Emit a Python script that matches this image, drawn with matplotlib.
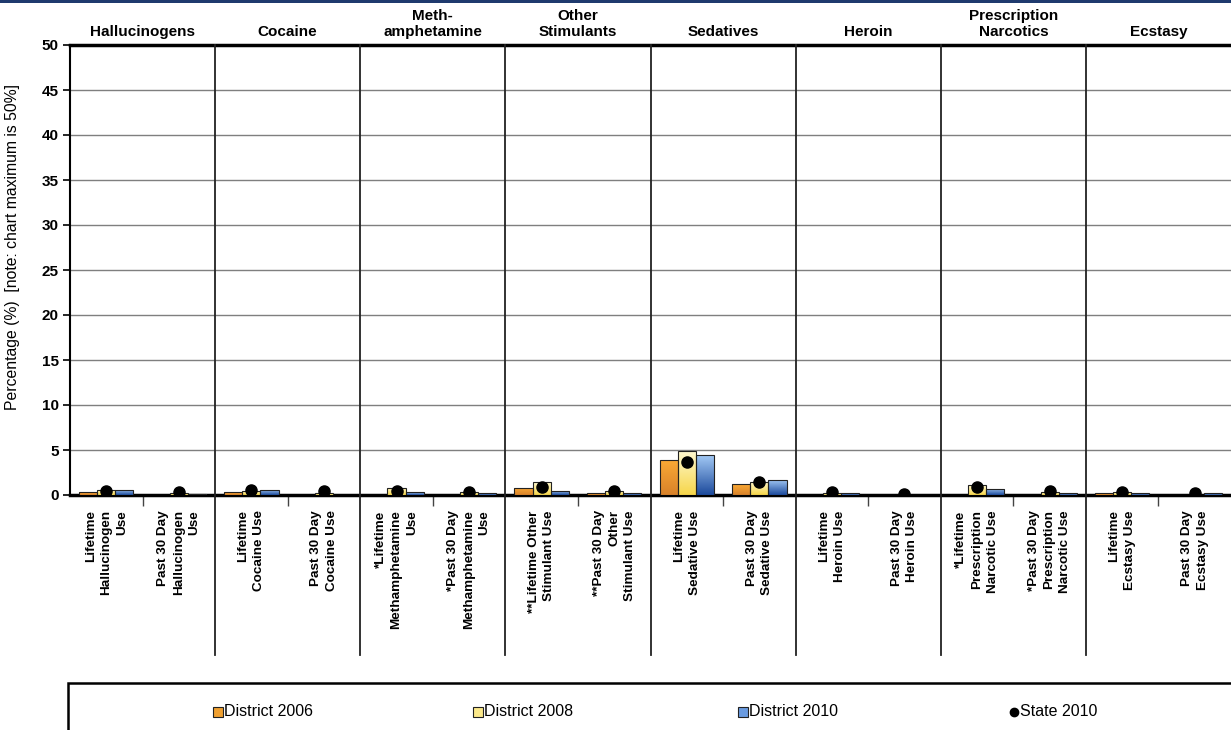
import numpy as np
import matplotlib
matplotlib.use("Agg")
import matplotlib.pyplot as plt
from matplotlib.colors import LinearSegmentedColormap
from matplotlib.patches import Rectangle
from matplotlib.lines import Line2D

plt.rcParams['font.family'] = ['Liberation Sans', 'DejaVu Sans']

groups = ['Hallucinogens', 'Cocaine', 'Meth-\namphetamine', 'Other\nStimulants',
          'Sedatives', 'Heroin', 'Prescription\nNarcotics', 'Ecstasy']
categories = ['Lifetime\nHallucinogen\nUse', 'Past 30 Day\nHallucinogen\nUse',
              'Lifetime\nCocaine Use', 'Past 30 Day\nCocaine Use',
              '*Lifetime\nMethamphetamine\nUse', '*Past 30 Day\nMethamphetamine\nUse',
              '**Lifetime Other\nStimulant Use', '**Past 30 Day\nOther\nStimulant Use',
              'Lifetime\nSedative Use', 'Past 30 Day\nSedative Use',
              'Lifetime\nHeroin Use', 'Past 30 Day\nHeroin Use',
              '*Lifetime\nPrescription\nNarcotic Use', '*Past 30 Day\nPrescription\nNarcotic Use',
              'Lifetime\nEcstasy Use', 'Past 30 Day\nEcstasy Use']
d2006 = [0.3, 0.0, 0.3, 0.0, 0.0, 0.0, 0.8, 0.2, 3.9, 1.2, 0.0, 0.0, 0.0, 0.0, 0.2, 0.0]
d2008 = [0.6, 0.2, 0.5, 0.2, 0.8, 0.3, 1.4, 0.5, 4.9, 1.5, 0.2, 0.0, 1.1, 0.3, 0.3, 0.0]
d2010 = [0.6, 0.15, 0.6, 0.0, 0.3, 0.2, 0.5, 0.2, 4.5, 1.7, 0.2, 0.0, 0.7, 0.2, 0.2, 0.2]
state = [0.5, 0.3, 0.6, 0.4, 0.4, 0.3, 0.9, 0.4, 3.7, 1.5, 0.3, 0.1, 0.9, 0.4, 0.35, 0.2]
series_names = ['District 2006', 'District 2008', 'District 2010', 'State 2010']

cmaps = [LinearSegmentedColormap.from_list('o', ['#D8822A', '#FBAA35']),
         LinearSegmentedColormap.from_list('y', ['#F6D64A', '#FFF9D2']),
         LinearSegmentedColormap.from_list('b', ['#1C4A9C', '#A6CCF7'])]
flat = ['#F0A030', '#FCE98A', '#6A9BE0']

fig = plt.figure(figsize=(12.31, 7.30), dpi=100)
ax = fig.add_axes([70/1231, 1-495/730, 1-70/1231, 450/730])

x = np.arange(len(categories))
w = 0.25
grad = np.linspace(0, 1, 100).reshape(-1, 1)
for i, vals in enumerate([d2006, d2008, d2010]):
    bars = ax.bar(x + (i-1)*w, vals, w, color='none', edgecolor='#222222', linewidth=0.8, zorder=4)
    for b, v in zip(bars, vals):
        if v <= 0:
            continue
        im = ax.imshow(grad, extent=[b.get_x(), b.get_x()+w, 0, v], origin='lower',
                       aspect='auto', cmap=cmaps[i], zorder=3)
        im.set_clip_path(b)
ax.plot(x, state, 'o', color='black', ms=8, ls='none', zorder=5)

ax.set_xlim(-0.5, len(categories)-0.5)
ax.set_ylim(0, 50)
ax.set_aspect('auto')
ax.set_yticks(np.arange(0, 51, 5))
ax.set_yticklabels([str(t) for t in range(0, 51, 5)], fontweight='bold', fontsize=11)
ax.yaxis.grid(True, color='#7f7f7f', linewidth=1)
ax.set_axisbelow(True)
ax.tick_params(axis='y', length=5, width=1.2, pad=3)
ax.set_ylabel('Percentage (%)  [note: chart maximum is 50%]', fontsize=11.3)
ax.yaxis.set_label_coords(-0.043, (495-247)/450)

ax.set_xticks(x)
ax.set_xticklabels(categories, rotation=90, fontweight='bold', fontsize=9.7, linespacing=1.4)
for t in ax.get_xticklabels():
    t.set_multialignment('right')
ax.set_xticks(np.arange(0.5, len(categories)-1, 2), minor=True)
ax.tick_params(axis='x', which='major', length=0, pad=11)
ax.tick_params(axis='x', which='minor', length=8, width=1, color='#444444')

ax.spines['right'].set_visible(False)
ax.spines['left'].set_linewidth(1.5)
ax.spines['bottom'].set_linewidth(2.5)
ax.spines['top'].set_linewidth(2.5)

# group separators running down through the label area
for s in np.arange(1.5, len(categories)-1, 2):
    ax.plot([s, s], [1, -160/450], color='#222222', lw=1.3, clip_on=False,
            transform=ax.get_xaxis_transform(), zorder=6)

for g, name in enumerate(groups):
    ax.annotate(name, xy=(2*g+0.5, 1), xycoords=('data', 'axes fraction'),
                xytext=(0, 4), textcoords='offset points', ha='center', va='bottom',
                fontweight='bold', fontsize=11, linespacing=1.25)

# top border line of the slide
fig.add_artist(Rectangle((0, 1-3/730), 1, 3/730, transform=fig.transFigure,
                         color='#1F3A6E', lw=0))

# legend box
fig.add_artist(Rectangle((68/1231, -0.05), 1.2, (730-683)/730+0.05, transform=fig.transFigure,
                         facecolor='white', edgecolor='black', lw=1.8))
leg_x = [218, 478, 743, 1014]
leg_y = 1-712/730
for i, name in enumerate(series_names):
    if i < 3:
        fig.add_artist(Line2D([leg_x[i]/1231], [leg_y], marker='s', ms=7, color=flat[i],
                              mec='#222222', mew=0.8, ls='none', transform=fig.transFigure))
    else:
        fig.add_artist(Line2D([leg_x[i]/1231], [leg_y], marker='o', ms=6, color='black',
                              ls='none', transform=fig.transFigure))
    fig.text((leg_x[i]+6)/1231, leg_y, name, fontsize=11.5, va='center', ha='left')

fig.savefig('out.png', dpi=100)
